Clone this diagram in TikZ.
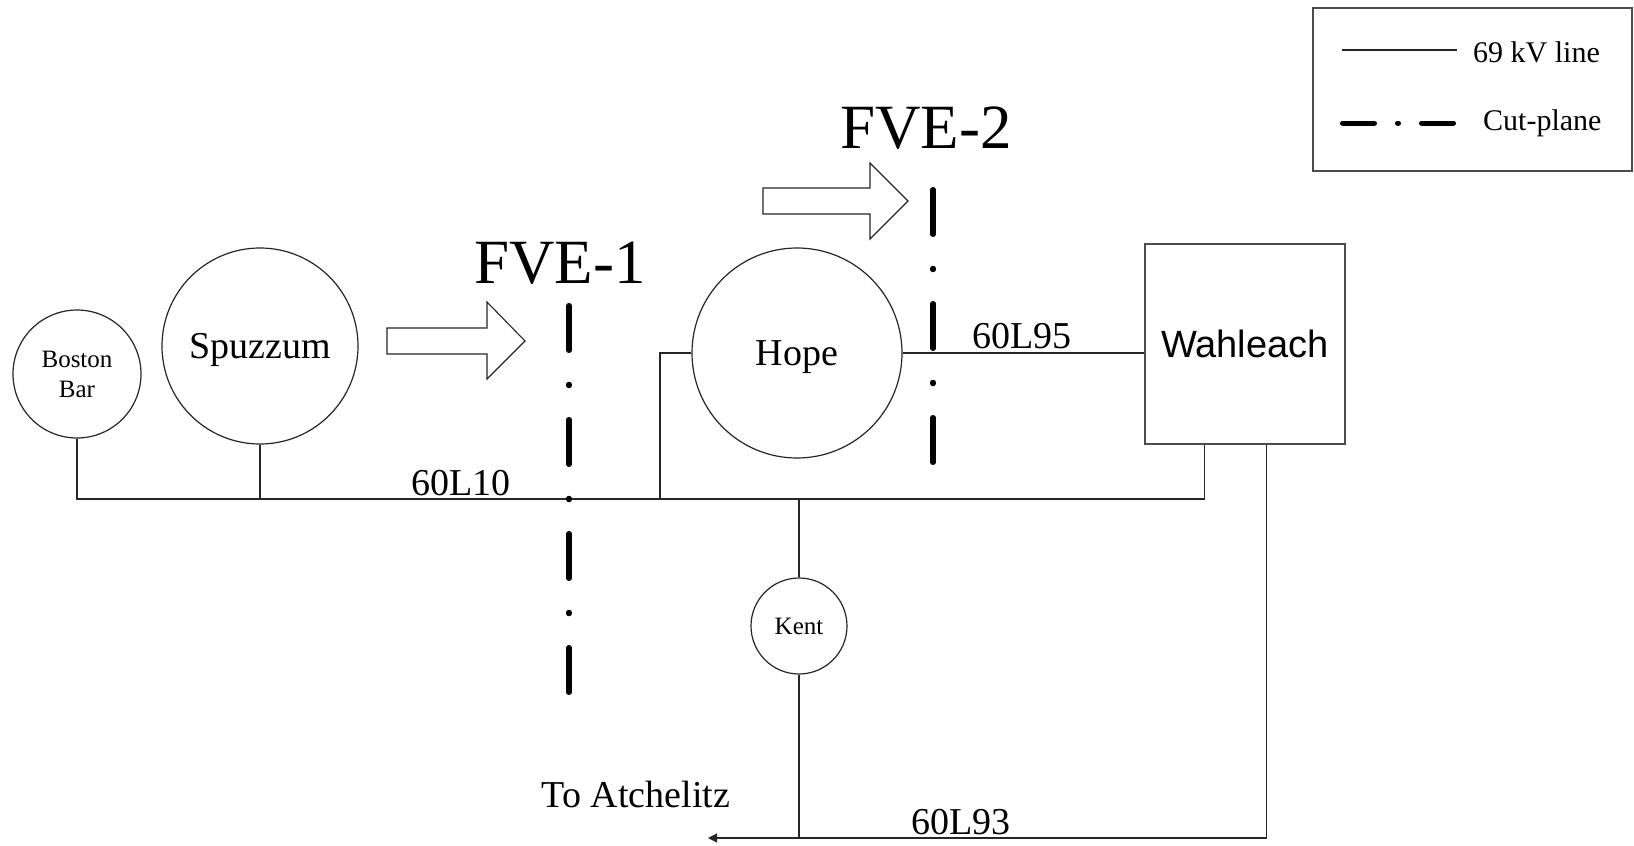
\documentclass[tikz,border=0pt]{standalone}
\usepackage{fontspec}
\setmainfont{Liberation Serif}
\newfontfamily\sansf{Liberation Sans}
\usetikzlibrary{arrows.meta,calc}
\tikzset{
  wire/.style={draw=black!85, line width=1.2pt},
  station/.style={circle, draw=black!85, line width=1.2pt, inner sep=0pt},
  lbl/.style={anchor=base, inner sep=0pt, font=\fontsize{38}{40}\selectfont},
  big/.style={anchor=base, inner sep=0pt, font=\fontsize{63}{66}\selectfont},
  leg/.style={anchor=base west, inner sep=0pt, font=\fontsize{30}{32}\selectfont},
  cutplane/.style={line width=5.5pt, line cap=round, dash pattern=on 44.5pt off 34.25pt on 1pt off 34.25pt},
  hollow/.style={draw=black!85, line width=1.1pt, fill=white, line join=miter}
}
\begin{document}
\begin{tikzpicture}[x=1pt,y=-1pt]
\useasboundingbox[fill=white] (0,0) rectangle (1634,846);

% legend
\node[draw=black!70, line width=1.2pt, minimum width=319pt, minimum height=163pt, inner sep=0pt] (legend) at (1472.5,89.5) {};
\coordinate (l1a) at (1342,50);
\coordinate (l1b) at (1457,50);
\draw[wire] (l1a) -- (l1b);
\node[leg] (l1t) at (1473,62) {69 kV line};
\coordinate (l2a) at (1342.5,123);
\coordinate (l2b) at (1453.5,123);
\draw[line width=5pt, line cap=round, dash pattern=on 32pt off 23pt on 1pt off 23pt] (l2a) -- (l2b);
\node[leg] (l2t) at (1483,130) {Cut-plane};

% stations
\node[station, minimum size=128pt, align=center, font=\fontsize{25}{30}\selectfont] (bb) at (77,374) {Boston\\Bar};
\node[station, minimum size=196pt, text depth=0pt, font=\fontsize{38}{40}\selectfont] (spz) at (260,346) {Spuzzum};
\node[station, minimum size=210pt, text depth=0pt, font=\fontsize{38}{40}\selectfont] (hope) at (797,353) {Hope};
\node[draw=black!70, line width=1.2pt, minimum width=200pt, minimum height=200pt, inner sep=0pt, font=\sansf\fontsize{38}{40}\selectfont] (wah) at (1245,344) {Wahleach};
\node[station, minimum size=96pt, font=\fontsize{25}{30}\selectfont] (kent) at (799,626) {Kent};

% helper coordinates
\coordinate (bus) at (0,499);
\coordinate (hj) at (660,499);
\coordinate (wbl) at ($(wah.south west)!0.3!(wah.south east)$);
\coordinate (wbr) at ($(wah.south west)!0.605!(wah.south east)$);
\coordinate (atch) at (708,838);

% connectors
\draw[wire] (bb.south) -- (bb.south |- bus) -| (wbl);
\draw[wire] (spz.south) -- (spz.south |- bus);
\draw[wire] (hope.west) -| (hj);
\draw[wire] (kent.north) -- (kent.north |- bus);
\draw[wire] (hope.east) -- (hope.east -| wah.west);
\draw[wire, -{Triangle[length=9pt,width=9pt]}] (wbr) |- (atch);
\draw[wire] (kent.south) -- (kent.south |- atch);

% line labels
\node[lbl] (l10) at (461,495) {60L10};
\node[lbl] (l95) at (1022,348) {60L95};
\node[lbl] (l93) at (961,834) {60L93};
\node[lbl] (to) at (636,807) {To Atchelitz};

% flow arrows
\draw[hollow] (387,328) -- (487,328) -- (487,302) -- (525,341) -- (487,379) -- (487,354) -- (387,354) -- cycle;
\draw[hollow] (763,188) -- (870,188) -- (870,163) -- (908,201) -- (870,239) -- (870,214) -- (763,214) -- cycle;

% cut planes
\coordinate (c1a) at (569,305.75);
\coordinate (c1b) at (569,692.25);
\draw[cutplane] (c1a) -- (c1b);
\coordinate (c2a) at (933,189.75);
\coordinate (c2b) at (933,462.25);
\draw[cutplane] (c2a) -- (c2b);

\node[big] (fve1) at (560,283) {FVE-1};
\node[big] (fve2) at (926,148) {FVE-2};
\end{tikzpicture}
\end{document}
